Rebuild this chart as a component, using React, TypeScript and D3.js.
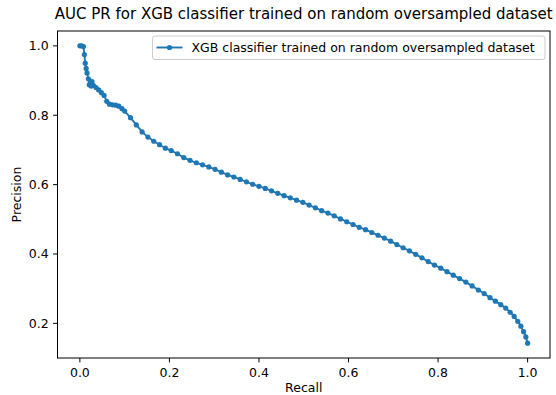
import React from "react";
import * as d3 from "d3";

const TITLE = "AUC PR for XGB classifier trained on random oversampled dataset";
const SERIES_NAME = "XGB classifier trained on random oversampled dataset";
const X_LABEL = "Recall";
const Y_LABEL = "Precision";
const X_TICKS = [0.0, 0.2, 0.4, 0.6, 0.8, 1.0];
const Y_TICKS = [0.2, 0.4, 0.6, 0.8, 1.0];

const recall = [
  0.000, 0.004, 0.008, 0.010, 0.012, 0.014, 0.016, 0.019, 0.021, 0.025, 0.027, 0.030, 0.036, 0.042, 0.048, 0.054,
  0.060, 0.066, 0.073, 0.080, 0.087, 0.094,
  0.100, 0.113, 0.126, 0.139, 0.152, 0.165, 0.178, 0.191, 0.204, 0.218, 0.232, 0.246, 0.260, 0.274, 0.288, 0.302,
  0.316, 0.330, 0.344, 0.358, 0.372, 0.386, 0.400, 0.414, 0.428, 0.442, 0.456, 0.470, 0.484, 0.498, 0.512, 0.526,
  0.540, 0.554, 0.568, 0.582, 0.596, 0.610, 0.624, 0.638, 0.652, 0.666, 0.680, 0.694, 0.708, 0.722, 0.736, 0.750,
  0.764, 0.778, 0.792, 0.806, 0.820, 0.834, 0.848, 0.862, 0.876, 0.890, 0.903, 0.916, 0.928, 0.940, 0.951, 0.961,
  0.970, 0.978, 0.985, 0.991, 0.996, 1.000,
];

const precision = [
  1.000, 1.000, 0.998, 0.975, 0.950, 0.935, 0.922, 0.905, 0.888, 0.884, 0.897, 0.886, 0.880, 0.873, 0.865, 0.857,
  0.840, 0.832, 0.830, 0.829, 0.826, 0.819,
  0.812, 0.793, 0.772, 0.752, 0.737, 0.725, 0.715, 0.705, 0.698, 0.689, 0.678, 0.670, 0.663, 0.657, 0.651, 0.644,
  0.636, 0.628, 0.622, 0.615, 0.608, 0.601, 0.595, 0.589, 0.582, 0.575, 0.568, 0.562, 0.555, 0.549, 0.541, 0.533,
  0.525, 0.518, 0.510, 0.501, 0.493, 0.485, 0.477, 0.470, 0.462, 0.454, 0.446, 0.437, 0.427, 0.418, 0.409, 0.399,
  0.389, 0.378, 0.368, 0.359, 0.349, 0.339, 0.329, 0.319, 0.308, 0.296, 0.286, 0.274, 0.264, 0.254, 0.244, 0.232,
  0.220, 0.206, 0.192, 0.176, 0.161, 0.143,
];

const W = 556;
const H = 395;
const M = { left: 57.5, right: 550, top: 31, bottom: 358 };
const BLUE = "#1f77b4";
const FONT = "DejaVu Sans, sans-serif";
const FS = 12.5;
const TICK = 4.4;

export default function App() {
  const data = recall.map((r, i) => ({ r, p: precision[i] }));
  const x = d3.scaleLinear().domain([-0.05, 1.05]).range([M.left, M.right]);
  const pMin = d3.min(precision) as number;
  const pMax = d3.max(precision) as number;
  const pad = (pMax - pMin) * 0.05;
  const y = d3.scaleLinear().domain([pMin - pad, pMax + pad]).range([M.bottom, M.top]);
  const line = d3
    .line<{ r: number; p: number }>()
    .x((d) => x(d.r))
    .y((d) => y(d.p));

  const legX = 152.5;
  const legY = 36;
  const legW = 392.5;
  const legH = 23.5;

  return (
    <svg
      width={W}
      height={H}
      style={{ position: "absolute", left: 0, top: 0, background: "#fff" }}
      fontFamily={FONT}
    >
      <rect x={0} y={0} width={W} height={H} fill="#fff" />
      <text x={(M.left + M.right) / 2} y={19} textAnchor="middle" fontSize={15} fill="#000">
        {TITLE}
      </text>

      <path d={line(data) || ""} fill="none" stroke={BLUE} strokeWidth={1.9} />
      {data.map((d, i) => (
        <circle key={i} cx={x(d.r)} cy={y(d.p)} r={2.6} fill={BLUE} />
      ))}

      <rect
        x={M.left}
        y={M.top}
        width={M.right - M.left}
        height={M.bottom - M.top}
        fill="none"
        stroke="#000"
        strokeWidth={1}
      />

      {X_TICKS.map((t) => (
        <g key={"x" + t}>
          <line x1={x(t)} x2={x(t)} y1={M.bottom} y2={M.bottom + TICK} stroke="#000" strokeWidth={1} />
          <text x={x(t)} y={M.bottom + 19} textAnchor="middle" fontSize={FS} fill="#000">
            {t.toFixed(1)}
          </text>
        </g>
      ))}
      {Y_TICKS.map((t) => (
        <g key={"y" + t}>
          <line x1={M.left - TICK} x2={M.left} y1={y(t)} y2={y(t)} stroke="#000" strokeWidth={1} />
          <text x={M.left - 8.8} y={y(t)} dy="0.36em" textAnchor="end" fontSize={FS} fill="#000">
            {t.toFixed(1)}
          </text>
        </g>
      ))}

      <text x={(M.left + M.right) / 2} y={392} textAnchor="middle" fontSize={FS} fill="#000">
        {X_LABEL}
      </text>
      <text
        transform={`translate(20.5,${(M.top + M.bottom) / 2}) rotate(-90)`}
        textAnchor="middle"
        fontSize={FS}
        fill="#000"
      >
        {Y_LABEL}
      </text>

      <rect
        x={legX}
        y={legY}
        width={legW}
        height={legH}
        rx={2.5}
        fill="#fff"
        fillOpacity={0.8}
        stroke="#cccccc"
        strokeWidth={1}
      />
      <line x1={156.5} x2={182.5} y1={47.5} y2={47.5} stroke={BLUE} strokeWidth={1.9} />
      <circle cx={169.5} cy={47.5} r={2.6} fill={BLUE} />
      <text x={191.5} y={52} fontSize={FS} fill="#000">
        {SERIES_NAME}
      </text>
    </svg>
  );
}
